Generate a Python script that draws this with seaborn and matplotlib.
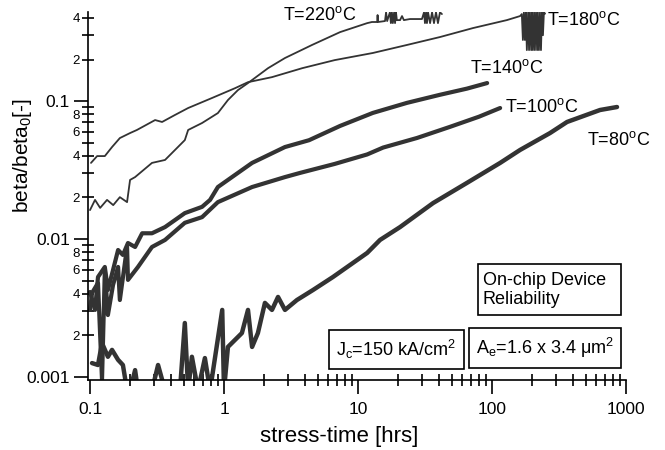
import matplotlib
matplotlib.use("Agg")
import matplotlib.pyplot as plt
import seaborn as sns
from matplotlib.ticker import FixedLocator, FixedFormatter, NullFormatter, LogLocator
from matplotlib.patches import Rectangle

# ---------------- data ----------------
t220_hours = [0.1, 0.109, 0.119, 0.134, 0.149, 0.167, 0.189, 0.199, 0.217, 0.29,
              0.363, 0.453, 0.51, 0.54, 0.686, 0.90, 1.07, 1.27, 1.51, 2.13,
              2.85, 4.54, 7.35, 11.7, 12.7, 13.9, 14.0, 14.1, 15.9, 16.2,
              16.5, 17.3, 17.6, 17.9, 18.2, 18.6, 18.9, 19.2, 19.5, 20.6,
              21.3, 22.0, 24.4, 30.0, 31.1, 31.6, 32.2, 32.7, 33.3, 34.5,
              35.7, 36.9, 38.2, 39.5, 40.9, 42.3]
t220_beta = [0.0162, 0.0192, 0.0168, 0.0192, 0.0176, 0.0201, 0.0185, 0.0268, 0.0281, 0.0356,
             0.0374, 0.0464, 0.0521, 0.0617, 0.0693, 0.0818, 0.1017, 0.120, 0.135, 0.173,
             0.205, 0.255, 0.316, 0.367, 0.374, 0.374, 0.420, 0.374, 0.380, 0.44,
             0.380, 0.44, 0.367, 0.44, 0.367, 0.44, 0.367, 0.44, 0.386, 0.386,
             0.413, 0.386, 0.393, 0.393, 0.44, 0.367, 0.44, 0.367, 0.44, 0.367,
             0.44, 0.367, 0.44, 0.367, 0.44, 0.427]

t180_hours = [0.1017, 0.113, 0.129, 0.146, 0.167, 0.199, 0.224, 0.306, 0.345, 0.43,
              0.54, 0.81, 1.21, 1.51, 2.28, 3.83, 6.7, 12.9, 23.2, 40.9,
              72.1, 129, 162,
              167, 170, 173, 176, 179, 182, 186, 189, 192, 196, 199, 202,
              206, 209, 213, 217, 220, 224, 228, 232, 236, 240, 244, 249]
t180_beta = [0.0356, 0.0399, 0.0399, 0.0464, 0.0539, 0.0586, 0.0617, 0.0728, 0.0705, 0.0792,
             0.089, 0.105, 0.124, 0.137, 0.149, 0.173, 0.198, 0.223, 0.255, 0.291,
             0.338, 0.386, 0.413,
             0.427, 0.277, 0.44, 0.277, 0.44, 0.234, 0.44, 0.234, 0.44, 0.234, 0.44, 0.234,
             0.44, 0.234, 0.44, 0.234, 0.44, 0.234, 0.44, 0.234, 0.44, 0.30, 0.44, 0.43]

t140_hours = [0.1, 0.109, 0.1147, 0.129, 0.136, 0.1485, 0.162, 0.176, 0.192, 0.217,
              0.245, 0.29, 0.363, 0.43, 0.51, 0.686, 0.787, 0.90, 1.62, 2.85,
              4.31, 7.35, 12.9, 23.2, 40.9, 65, 92]
t140_beta = [0.00413, 0.00306, 0.0053, 0.00627, 0.00427, 0.00596, 0.00832, 0.00766, 0.00935, 0.00875,
             0.0110, 0.0110, 0.0122, 0.0137, 0.0154, 0.0171, 0.0192, 0.0238, 0.0356, 0.0464,
             0.052, 0.066, 0.082, 0.097, 0.111, 0.123, 0.135]

t100_hours = [0.1, 0.1035, 0.1147, 0.1229, 0.129, 0.136, 0.1485, 0.162, 0.167, 0.189,
              0.192, 0.228, 0.29, 0.363, 0.51, 0.686, 0.90, 1.62, 2.85, 3.68,
              6.7, 11.7, 15.4, 27.6, 48.6, 80, 115]
t100_beta = [0.00306, 0.00406, 0.0048, 0.00095, 0.00596, 0.00281, 0.00464, 0.00627, 0.00361, 0.00875,
             0.00505, 0.00627, 0.00875, 0.00984, 0.0131, 0.0144, 0.0185, 0.0238, 0.0281, 0.0301,
             0.035, 0.041, 0.046, 0.054, 0.065, 0.077, 0.089]

t80_hours = [0.1035, 0.1147, 0.1229, 0.136, 0.146, 0.162, 0.176, 0.189, 0.199, 0.217,
             0.228, 0.29, 0.322, 0.363, 0.469, 0.51, 0.54, 0.576, 0.64, 0.72,
             0.787, 0.97, 1.0, 1.07, 1.36, 1.51, 1.62, 1.79, 2.02, 2.28,
             2.53, 2.85, 3.5, 4.62, 6.5, 11.7, 14.6, 20.6, 36.3, 65,
             115, 162, 271, 363, 640, 857]
t80_beta = [0.00126, 0.00122, 0.00176, 0.0014, 0.00157, 0.00133, 0.00122, 0.0008, 0.0008, 0.00112,
            0.0008, 0.0008, 0.00122, 0.0008, 0.0008, 0.00246, 0.0008, 0.0014, 0.0008, 0.00137,
            0.0008, 0.00306, 0.0008, 0.00165, 0.00208, 0.00306, 0.00165, 0.00208, 0.00344, 0.00306,
            0.0038, 0.00306, 0.00361, 0.00427, 0.0053, 0.00792, 0.00984, 0.0122, 0.0182, 0.0255,
            0.0356, 0.0442, 0.0586, 0.0705, 0.0861, 0.0905]

curve_labels = [r"T=220$^\mathrm{o}$C", r"T=180$^\mathrm{o}$C", r"T=140$^\mathrm{o}$C",
                r"T=100$^\mathrm{o}$C", r"T=80$^\mathrm{o}$C"]

x_major = [0.1, 1, 10, 100, 1000]
x_major_labels = ["0.1", "1", "10", "100", "1000"]
y_major = [0.001, 0.01, 0.1]
y_major_labels = ["0.001", "0.01", "0.1"]
y_minor = [0.002, 0.003, 0.004, 0.005, 0.006, 0.007, 0.008, 0.009,
           0.02, 0.03, 0.04, 0.05, 0.06, 0.07, 0.08, 0.09,
           0.2, 0.3, 0.4]
y_minor_labels = ["2", "", "4", "", "6", "", "8", "",
                  "2", "", "4", "", "6", "", "8", "",
                  "2", "", "4"]

# ---------------- style ----------------
sns.set_style("ticks")
plt.rcParams["font.family"] = ["Liberation Sans", "DejaVu Sans"]
plt.rcParams["mathtext.fontset"] = "custom"
plt.rcParams["mathtext.rm"] = "Liberation Sans"
plt.rcParams["mathtext.it"] = "Liberation Sans:italic"
plt.rcParams["mathtext.bf"] = "Liberation Sans:bold"
for k in ["text.color", "axes.labelcolor", "xtick.color", "ytick.color", "axes.edgecolor"]:
    plt.rcParams[k] = "black"

W, H = 665, 450
fig = plt.figure(figsize=(W / 100, H / 100), dpi=100)
ax = fig.add_axes([88 / W, 70 / H, 538 / W, 368 / H])
ax.set_xscale("log")
ax.set_yscale("log")

line_color = "#333333"
series = [(t220_hours, t220_beta, 1.3), (t180_hours, t180_beta, 1.3),
          (t140_hours, t140_beta, 3.0), (t100_hours, t100_beta, 3.0),
          (t80_hours, t80_beta, 3.2)]
for xs, ys, lw in series:
    sns.lineplot(x=xs, y=ys, ax=ax, color=line_color, linewidth=lw,
                 estimator=None, sort=False)

ax.set_xlim(0.0966, 1000)
ax.set_ylim(0.00095, 0.442)
sns.despine(ax=ax)
for s in ["left", "bottom"]:
    ax.spines[s].set_linewidth(1.2)
    ax.spines[s].set_color("black")

ax.xaxis.set_major_locator(FixedLocator(x_major))
ax.xaxis.set_major_formatter(FixedFormatter(x_major_labels))
ax.xaxis.set_minor_locator(LogLocator(base=10, subs=[2, 3, 4, 5, 6, 7, 8, 9], numticks=20))
ax.xaxis.set_minor_formatter(NullFormatter())
ax.yaxis.set_major_locator(FixedLocator(y_major))
ax.yaxis.set_major_formatter(FixedFormatter(y_major_labels))
ax.yaxis.set_minor_locator(FixedLocator(y_minor))
ax.yaxis.set_minor_formatter(FixedFormatter(y_minor_labels))

ax.tick_params(axis="both", which="major", direction="out", length=10, width=1.2, labelsize=12.5)
ax.tick_params(axis="x", which="major", pad=6)
ax.tick_params(axis="y", which="major", pad=3)
ax.tick_params(axis="both", which="minor", direction="inout", length=8, width=1.2)
ax.tick_params(axis="y", which="minor", labelsize=9.5, pad=2)

ax.set_xlabel("stress-time [hrs]", fontsize=16)
ax.xaxis.set_label_coords(0.467, -0.125)
ax.set_ylabel(r"beta/beta$_\mathrm{0}$[-]", fontsize=15)
ax.yaxis.set_label_coords(-0.100, 0.611)

label_pos = [(2.75, 0.42), (257, 0.386), (68.5, 0.173), (125, 0.0905), (512, 0.052)]
for (lx, ly), txt in zip(label_pos, curve_labels):
    ax.text(lx, ly, txt, fontsize=13, ha="left", va="center")

def fig_box(x0, y0, x1, y1):
    fig.add_artist(Rectangle((x0 / W, 1 - y1 / H), (x1 - x0) / W, (y1 - y0) / H,
                             transform=fig.transFigure, facecolor="white",
                             edgecolor="black", linewidth=1.2))

fig_box(478, 264, 621, 315)
fig.text(483 / W, 1 - 290 / H, "On-chip Device\nReliability", fontsize=13,
         ha="left", va="center", linespacing=1.15)
fig_box(329, 330, 464, 369)
fig.text(396.5 / W, 1 - 349.5 / H, r"J$_\mathrm{c}$=150 kA/cm$^2$", fontsize=13,
         ha="center", va="center")
fig_box(469, 328, 621, 368)
fig.text(545 / W, 1 - 348 / H, r"A$_\mathrm{e}$=1.6 x 3.4 μm$^2$", fontsize=13,
         ha="center", va="center")

fig.savefig("out.png", dpi=100)
